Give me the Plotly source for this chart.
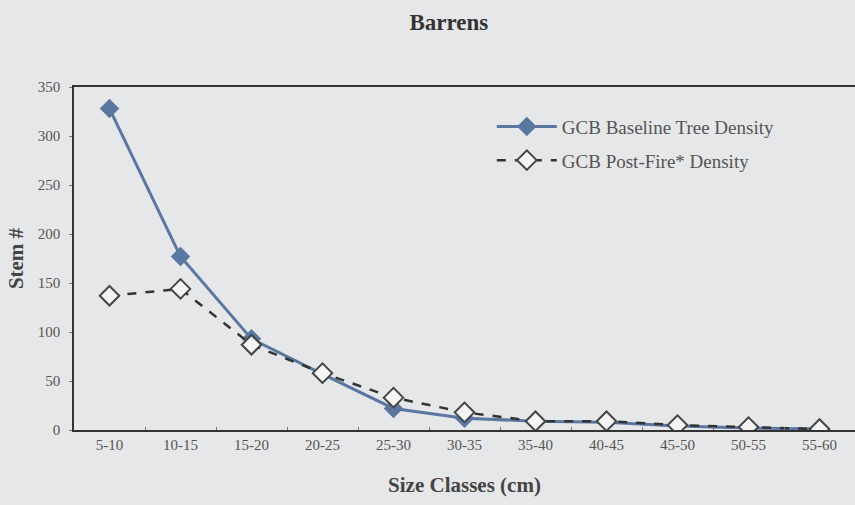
import plotly.graph_objects as go

# size classes and stem counts
size_classes = ["5-10", "10-15", "15-20", "20-25", "25-30", "30-35",
                "35-40", "40-45", "45-50", "50-55", "55-60"]
baseline = [328, 177, 93, 57, 22, 12, 9, 8, 4, 2, 1]
post_fire = [137, 144, 87, 58, 33, 18, 9, 9, 5, 3, 1]
y_ticks = [0, 50, 100, 150, 200, 250, 300, 350]

bg = "#e6e7e8"
serif = "Liberation Serif"

fig = go.Figure()

fig.add_trace(
    go.Scatter(
        x=size_classes, y=baseline, name="GCB Baseline Tree Density",
        mode="lines+markers", legendgroup="a",
        line=dict(color="#5a77a0", width=3),
        marker=dict(symbol="diamond", size=15, color="#5a77a0"),
    )
)

fig.add_trace(
    go.Scatter(
        x=size_classes, y=post_fire, name="GCB Post-Fire* Density",
        mode="lines+markers", legendgroup="b",
        line=dict(color="#333333", width=2.5, dash="dash"),
        marker=dict(symbol="diamond", size=15, color="#f4f4f4",
                    line=dict(color="#444444", width=2)),
    )
)

fig.update_layout(
    width=855, height=505,
    paper_bgcolor=bg, plot_bgcolor=bg,
    margin=dict(l=74, r=0, t=87, b=75),
    font=dict(family=serif, color="#333333"),
    title=dict(text="<b>Barrens</b>", x=0.525, xanchor="center",
               y=0.956, yanchor="middle",
               font=dict(size=23, family=serif, color="#333333")),
    legend=dict(x=0.535, y=0.94, xanchor="left", yanchor="top",
                bgcolor="rgba(0,0,0,0)", font=dict(size=19, family=serif, color="#555555"),
                itemwidth=60, tracegroupgap=6),
    xaxis=dict(
        type="category", range=[-0.5, 10.5],
        showline=True, linecolor="#333333", linewidth=1.5, mirror=True,
        showgrid=False, ticks="inside", tickson="boundaries", ticklen=3,
        tickcolor="#777777",
        tickfont=dict(size=15, family=serif, color="#555555"),
        title=dict(text="<b>Size Classes (cm)</b>", standoff=26,
                   font=dict(size=21, family=serif, color="#444444")),
    ),
    yaxis=dict(
        range=[0, 350], tickvals=y_ticks,
        showline=True, linecolor="#333333", linewidth=1.5,
        showgrid=False, zeroline=False, ticks="outside", ticklen=3,
        tickcolor="#777777", ticklabelstandoff=6,
        tickfont=dict(size=15, family=serif, color="#555555"),
        title=dict(text="<b>Stem #</b>", standoff=8,
                   font=dict(size=21, family=serif, color="#444444")),
    ),
)

# drop the default page margin so the 855x505 figure fills the window
fig.write_html("out.html", config={"displayModeBar": False},
               post_script="document.body.style.margin='0';")
